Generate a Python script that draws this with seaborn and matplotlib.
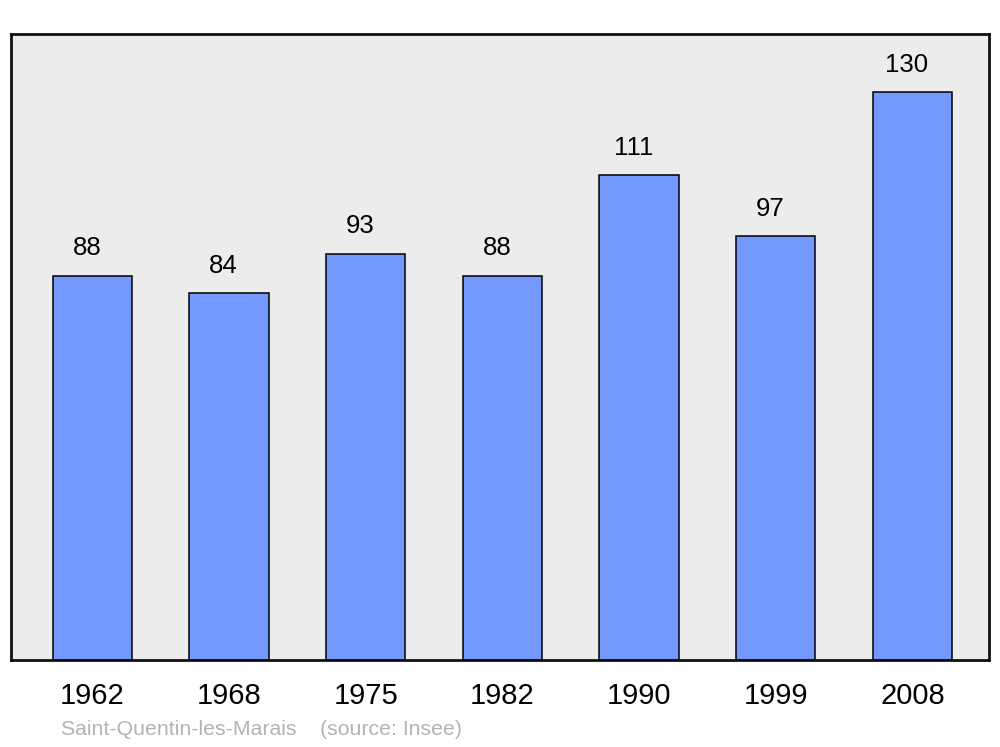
import matplotlib
matplotlib.use('Agg')
import pandas as pd
import seaborn as sns
from matplotlib import pyplot as plt

# population per census year
years = ['1962', '1968', '1975', '1982', '1990', '1999', '2008']
population = [88, 84, 93, 88, 111, 97, 130]
commune = 'Saint-Quentin-les-Marais'
source = '(source: Insee)'

df = pd.DataFrame({'Year': years, 'Population': population})

sns.set_style('white')
plt.rcParams['font.family'] = ['Liberation Sans', 'DejaVu Sans']
plt.rcParams['text.color'] = 'black'
plt.rcParams['xtick.color'] = 'black'

fig = plt.figure(figsize=(10, 7.47), dpi=100)
ax = fig.add_axes([0.011, 0.1165, 0.978, 0.838])
ax.set_facecolor('#ececec')

sns.barplot(data=df, x='Year', y='Population', color='#7399ff', saturation=1,
            width=0.58, edgecolor='black', linewidth=1.1, ax=ax)

ax.set_ylim(0, 143.3)
ax.set_xlim(-0.595, 6.56)
ax.set_xlabel('')
ax.set_ylabel('')
ax.set_yticks([])
ax.tick_params(axis='x', length=0, pad=16, labelsize=21, labelcolor='black')
for t in ax.get_xticklabels():
    t.set_x(t.get_position()[0])

for side in ax.spines.values():
    side.set_linewidth(2)
    side.set_color('#111111')

labels = ax.bar_label(ax.containers[0], padding=11, fontsize=18.5, color='black')
for t in labels:
    t.xyann = (-4, 11)

fig.text(0.061, 0.0228, commune + '    ' + source, fontsize=15.3,
         color='#b3b3b3', ha='left', va='center')

fig.savefig('out.png', dpi=100)
